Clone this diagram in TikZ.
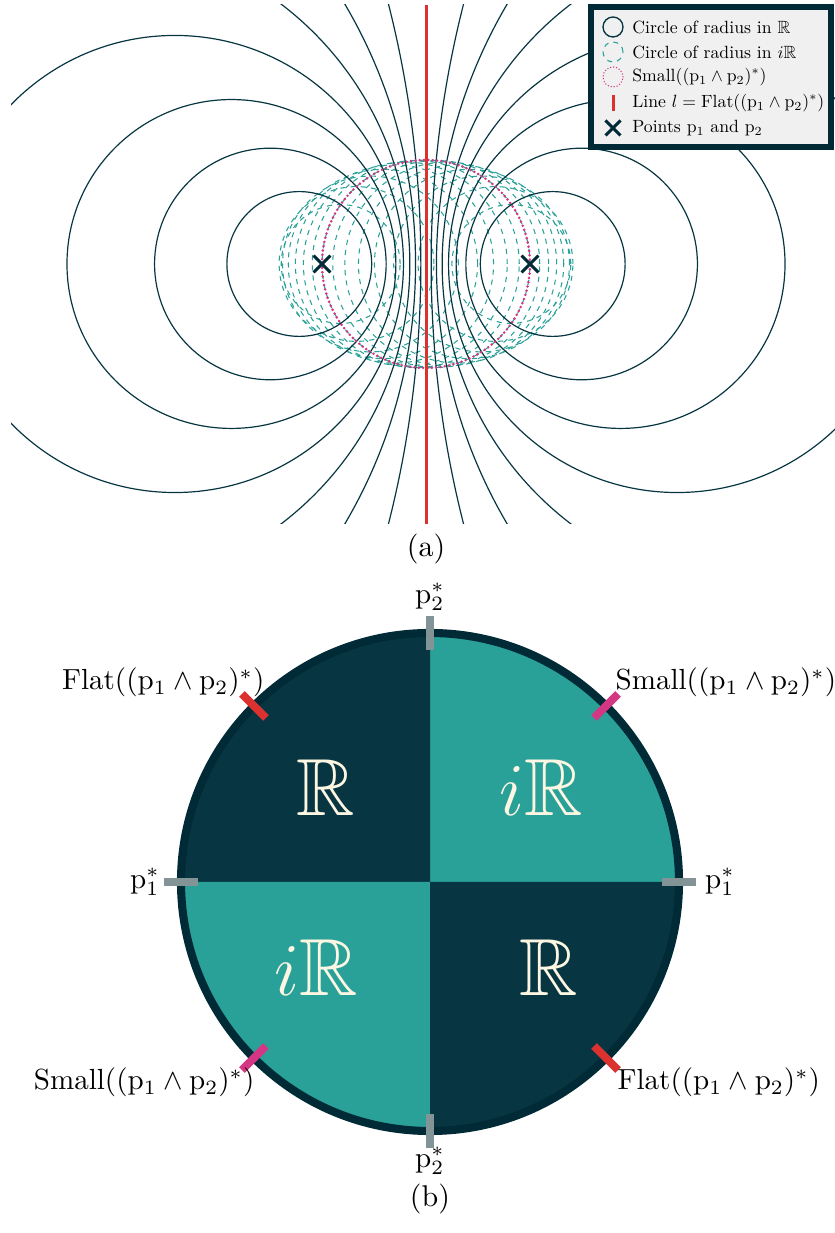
\documentclass[tikz,border=0pt]{standalone}
\usepackage{amsmath,amssymb,amsfonts}
\usepackage{tikz}
\usetikzlibrary{calc,shapes.misc}
\usepackage{xcolor}
\definecolor{soldark}{HTML}{002B36}
\definecolor{solnavy}{HTML}{073642}
\definecolor{solcyan}{HTML}{2AA198}
\definecolor{solred}{HTML}{DC322F}
\definecolor{solmagenta}{HTML}{D33682}
\definecolor{solgrey}{HTML}{839496}
\definecolor{solcream}{HTML}{FDF6E3}
\definecolor{legendgrey}{HTML}{F0F0F0}

\begin{document}
\begin{tikzpicture}[x=0.3333pt, y=0.3333pt,
    realcirc/.style={solnavy, line width=0.4pt},
    imagcirc/.style={solcyan, line width=0.35pt, dash pattern=on 1.7pt off 1.7pt},
    smallcirc/.style={solmagenta, line width=0.95pt, line cap=round, dash pattern=on 0pt off 1.45pt},
    flatline/.style={solred, line width=1pt},
    ptmark/.style={cross out, draw=soldark, line width=1pt, minimum size=4.6pt, inner sep=0pt},
    legtext/.style={scale=0.59, anchor=west, inner sep=0pt},
    quadlabel/.style={font=\fontsize{27}{32}\selectfont, text=solcream},
    ticklabel/.style={inner sep=0pt, scale=0.97},
    tickbar/.style={line width=2.7pt},
]
    \useasboundingbox (0,0) rectangle (835,1233);

    % (a) circles of the pencil spanned by p1 and p2
    \coordinate (ctra) at (426,969);
    \def\dd{104}
    \begin{scope}
        \clip (11,709) rectangle (841,1228);
        \foreach \k in {1,...,15} {
            \pgfmathsetmacro{\ca}{cos(\k*5.625)}
            \pgfmathsetmacro{\cb}{sin(\k*5.625)}
            \pgfmathsetmacro{\cx}{\dd*(\cb-\ca)/(\ca+\cb)}
            \pgfmathsetmacro{\rr}{2*\dd*sqrt(\ca*\cb)/(\ca+\cb)}
            \draw[imagcirc] ($(ctra)+(\cx,0)$) circle[radius=\rr];
        }
        \foreach \k in {1,...,15} {
            \ifnum\k=8\relax\else
            \pgfmathsetmacro{\ca}{cos(90+\k*5.625)}
            \pgfmathsetmacro{\cb}{sin(90+\k*5.625)}
            \pgfmathsetmacro{\cx}{\dd*(\cb-\ca)/(\ca+\cb)}
            \pgfmathsetmacro{\rr}{2*\dd*sqrt(-\ca*\cb)/abs(\ca+\cb)}
            \draw[realcirc] ($(ctra)+(\cx,0)$) circle[radius=\rr];
            \fi
        }
        \draw[smallcirc] (ctra) circle[radius=\dd];
        \coordinate (ltop) at (426,1228);
        \coordinate (lbot) at (426,709);
        \draw[flatline] (lbot) -- (ltop);
    \end{scope}
    \node[ptmark] (p1) at (322,969) {};
    \node[ptmark] (p2) at (530,969) {};

    % legend
    \draw[soldark, line width=1.7pt, fill=legendgrey] (591,1086) rectangle (831,1226);
    \draw[realcirc, line width=0.45pt] (613,1206) circle[radius=10];
    \node[legtext] (leg1) at (632,1206) {Circle of radius in $\mathbb{R}$};
    \draw[imagcirc] (613,1181) circle[radius=10];
    \node[legtext] (leg2) at (632,1181) {Circle of radius in $i\mathbb{R}$};
    \draw[smallcirc, line width=0.5pt, dash pattern=on 0pt off 1pt] (613,1156) circle[radius=10];
    \node[legtext] (leg3) at (632,1156) {$\text{Small}((\mathrm{p}_1\wedge\mathrm{p}_2)^*)$};
    \draw[flatline] (613,1122) -- (613,1138);
    \node[legtext] (leg4) at (632,1130) {Line $l=\text{Flat}((\mathrm{p}_1\wedge\mathrm{p}_2)^*)$};
    \node[ptmark, minimum size=4pt] (legpt) at (613,1105) {};
    \node[legtext] (leg5) at (632,1105) {Points $\mathrm{p}_1$ and $\mathrm{p}_2$};

    \node (capa) at (426,684) {(a)};

    % (b) the circle of dual spheres
    \coordinate (ctrb) at (430,351);
    \foreach \a/\c in {0/solcyan, 90/solnavy, 180/solcyan, 270/solnavy}
        \fill[\c] (ctrb) -- ++(\a:249) arc[start angle=\a, delta angle=90, radius=249] -- cycle;
    \draw[soldark, line width=2.7pt] (ctrb) circle[radius=249];
    \foreach \a/\c in {0/solgrey, 90/solgrey, 180/solgrey, 270/solgrey,
                       45/solmagenta, 135/solred, 225/solmagenta, 315/solred}
        \draw[tickbar, \c] ($(ctrb)+(\a:232)$) -- ($(ctrb)+(\a:266)$);

    \node[quadlabel] (qul) at (326,445) {$\mathbb{R}$};
    \node[quadlabel] (qur) at (541,445) {$i\mathbb{R}$};
    \node[quadlabel] (qll) at (316,265) {$i\mathbb{R}$};
    \node[quadlabel] (qlr) at (549,265) {$\mathbb{R}$};

    \node[ticklabel] (p2top) at (430,636) {$\mathrm{p}_2^*$};
    \node[ticklabel] (p2bot) at (430,72) {$\mathrm{p}_2^*$};
    \node[ticklabel] (p1lft) at (145,351) {$\mathrm{p}_1^*$};
    \node[ticklabel] (p1rgt) at (720,351) {$\mathrm{p}_1^*$};
    \node[ticklabel, anchor=base east] (flatul) at (265,543) {$\text{Flat}((\mathrm{p}_1\wedge\mathrm{p}_2)^*)$};
    \node[ticklabel, anchor=base west] (smallur) at (615,543) {$\text{Small}((\mathrm{p}_1\wedge\mathrm{p}_2)^*)$};
    \node[ticklabel, anchor=base east] (smallll) at (255,143) {$\text{Small}((\mathrm{p}_1\wedge\mathrm{p}_2)^*)$};
    \node[ticklabel, anchor=base west] (flatlr) at (617,143) {$\text{Flat}((\mathrm{p}_1\wedge\mathrm{p}_2)^*)$};

    \node (capb) at (430,34) {(b)};
\end{tikzpicture}
\end{document}
